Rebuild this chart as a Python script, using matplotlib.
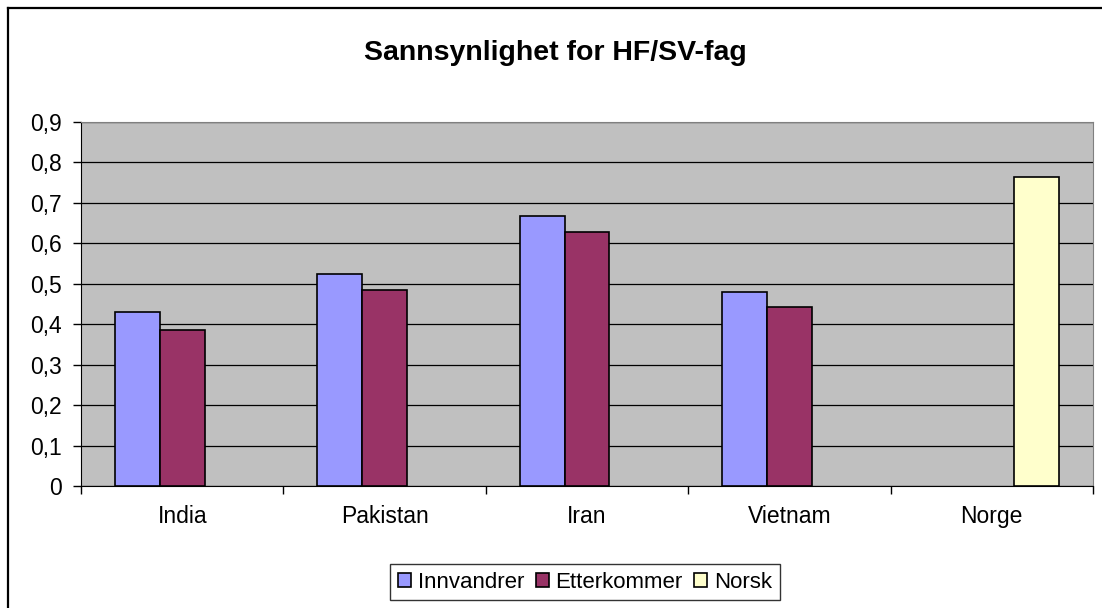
import matplotlib
matplotlib.use("Agg")
import matplotlib.pyplot as plt
import numpy as np
from matplotlib.lines import Line2D
from matplotlib.ticker import FixedLocator, FuncFormatter

categories = ["India", "Pakistan", "Iran", "Vietnam", "Norge"]
innvandrer = [0.431, 0.524, 0.668, 0.479, np.nan]
etterkommer = [0.386, 0.484, 0.627, 0.443, np.nan]
norsk = [np.nan, np.nan, np.nan, np.nan, 0.765]
series_names = ["Innvandrer", "Etterkommer", "Norsk"]
series_colors = ["#9999FF", "#993366", "#FFFFCC"]
y_ticks = [0, 0.1, 0.2, 0.3, 0.4, 0.5, 0.6, 0.7, 0.8, 0.9]

plt.rcParams["font.family"] = ["Liberation Sans", "DejaVu Sans"]

fig = plt.figure(figsize=(11.02, 6.08), dpi=100, facecolor="white")
W, H = 1102, 608
ax = fig.add_axes([81 / W, 1 - 486 / H, (1093 - 81) / W, (486 - 122) / H])
ax.set_facecolor("#C0C0C0")

# chart border (only left and top edges are visible in the crop)
fig.lines.append(Line2D([8 / W, 8 / W], [0, 1 - 8 / H], transform=fig.transFigure,
                        color="black", linewidth=1.6))
fig.lines.append(Line2D([8 / W, 1], [1 - 8 / H, 1 - 8 / H], transform=fig.transFigure,
                        color="black", linewidth=1.6))

x = np.arange(len(categories))
width = 1 / 4.5
for i, (vals, name, col) in enumerate(zip([innvandrer, etterkommer, norsk], series_names, series_colors)):
    ax.bar(x + (i - 1) * width, vals, width, color=col, edgecolor="black",
           linewidth=1.2, label=name, zorder=3)

ax.set_xlim(-0.5, len(categories) - 0.5)
ax.set_ylim(0, 0.9)
ax.yaxis.set_major_locator(FixedLocator(y_ticks))
ax.yaxis.set_major_formatter(FuncFormatter(lambda v, p: "0" if v == 0 else f"{v:.1f}".replace(".", ",")))
ax.grid(axis="y", color="black", linewidth=0.9, zorder=1)
ax.set_axisbelow(True)

ax.set_xticks(x)
ax.set_xticklabels(categories)
ax.tick_params(axis="x", length=0, labelsize=16.5, pad=14)
ax.set_xticks(np.arange(len(categories) + 1) - 0.5, minor=True)
ax.tick_params(axis="x", which="minor", length=6, width=1, direction="out")
ax.tick_params(axis="y", length=6, width=1, direction="out", labelsize=16.5, pad=8)

ax.spines["left"].set_color("black")
ax.spines["bottom"].set_color("black")
ax.spines["top"].set_color("#808080")
ax.spines["right"].set_color("#808080")

fig.text(555 / W, 1 - 53 / H, "Sannsynlighet for HF/SV-fag", ha="center", va="center",
         fontsize=20.5, fontweight="bold")

leg = fig.legend(loc="center", bbox_to_anchor=(585 / W, 1 - 582 / H), ncol=3,
                 fontsize=16, frameon=True, fancybox=False, edgecolor="black",
                 handlelength=0.6, handleheight=0.6, handletextpad=0.3,
                 columnspacing=0.5, borderpad=0.35)
leg.get_frame().set_linewidth(1.0)

fig.savefig("out.png", dpi=100, facecolor="white")
